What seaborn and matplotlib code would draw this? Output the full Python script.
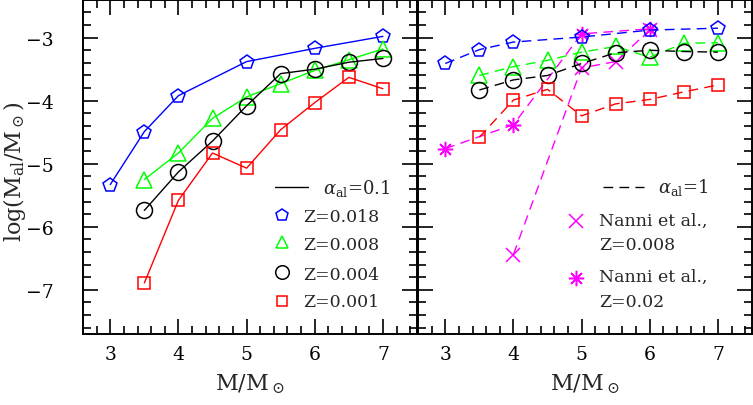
import matplotlib
matplotlib.use("Agg")
import matplotlib.pyplot as plt
import seaborn as sns
import numpy as np
import pandas as pd

sns.set_style("ticks")
plt.rcParams['font.family'] = ['DejaVu Serif']
plt.rcParams['mathtext.fontset'] = 'dejavuserif'

# ---- data: alpha_al = 0.1 (left panel, solid) ----
x_z018_a01 = [3, 3.5, 4, 5, 6, 7]
y_z018_a01 = [-5.33, -4.49, -3.92, -3.38, -3.17, -2.98]
x_z008_a01 = [3.5, 4, 4.5, 5, 5.5, 6, 6.5, 7]
y_z008_a01 = [-5.25, -4.83, -4.28, -3.94, -3.73, -3.52, -3.35, -3.18]
x_z004_a01 = [3.5, 4, 4.5, 5, 5.5, 6, 6.5, 7]
y_z004_a01 = [-5.74, -5.13, -4.64, -4.08, -3.57, -3.50, -3.39, -3.33]
x_z001_a01 = [3.5, 4, 4.5, 5, 5.5, 6, 6.5, 7]
y_z001_a01 = [-6.89, -5.58, -4.83, -5.07, -4.46, -4.03, -3.63, -3.81]

# ---- data: alpha_al = 1 (right panel, dashed) ----
x_z018_a1 = [3, 3.5, 4, 5, 6, 7]
y_z018_a1 = [-3.41, -3.19, -3.07, -2.99, -2.88, -2.85]
x_z008_a1 = [3.5, 4, 4.5, 5, 5.5, 6, 6.5, 7]
y_z008_a1 = [-3.60, -3.46, -3.36, -3.23, -3.14, -3.31, -3.09, -3.08]
x_z004_a1 = [3.5, 4, 4.5, 5, 5.5, 6, 6.5, 7]
y_z004_a1 = [-3.83, -3.67, -3.60, -3.41, -3.24, -3.20, -3.22, -3.23]
x_z001_a1 = [3.5, 4, 4.5, 5, 5.5, 6, 6.5, 7]
y_z001_a1 = [-4.58, -3.99, -3.82, -4.24, -4.05, -3.98, -3.86, -3.75]

# ---- Nanni et al. ----
x_nanni008 = [4, 5, 5.5, 6]
y_nanni008 = [-6.44, -3.48, -3.38, -2.88]
x_nanni02 = [3, 4, 5, 6]
y_nanni02 = [-4.76, -4.38, -2.94, -2.86]

labels_z = ["Z=0.018", "Z=0.008", "Z=0.004", "Z=0.001"]
xticks = [3, 4, 5, 6, 7]
yticks = [-3, -4, -5, -6, -7]

BLUE, GREEN, BLACK, RED, MAG = "#0000ff", "#00ff00", "#000000", "#ff0000", "#ff00ff"
series_style = [("p", BLUE, 10.5), ("^", GREEN, 11), ("o", BLACK, 11.5), ("s", RED, 9)]
star = (8, 2, 0)

W, H = 753, 406
fig = plt.figure(figsize=(W / 100, H / 100), dpi=100)
ax1 = fig.add_axes([83 / W, 1 - 335 / H, 334 / W, 335 / H - 0.002])
ax2 = fig.add_axes([418 / W, 1 - 335 / H, 334 / W, 335 / H - 0.002])

def draw(ax, x, y, marker, color, ms, ls):
    df = pd.DataFrame({"x": x, "y": y})
    sns.lineplot(data=df, x="x", y="y", ax=ax, color=color, marker=marker,
                 markersize=ms, markerfacecolor="none", markeredgecolor=color,
                 markeredgewidth=1.1, linewidth=1.0, linestyle=ls, sort=False,
                 legend=False)

dash = (0, (7, 4.5))
left = [(x_z018_a01, y_z018_a01), (x_z008_a01, y_z008_a01),
        (x_z004_a01, y_z004_a01), (x_z001_a01, y_z001_a01)]
right = [(x_z018_a1, y_z018_a1), (x_z008_a1, y_z008_a1),
         (x_z004_a1, y_z004_a1), (x_z001_a1, y_z001_a1)]
for (x, y), (m, c, ms) in zip(left, series_style):
    draw(ax1, x, y, m, c, ms, "-")
draw(ax2, x_nanni008, y_nanni008, "x", MAG, 10, dash)
draw(ax2, x_nanni02, y_nanni02, star, MAG, 11, dash)
for (x, y), (m, c, ms) in zip(right, series_style):
    draw(ax2, x, y, m, c, ms, dash)

for ax in (ax1, ax2):
    ax.set_xlim(2.6, 7.5)
    ax.set_ylim(-7.7, -2.4)
    ax.set_xticks(xticks)
    ax.set_yticks(yticks)
    ax.set_xticks(np.arange(2.6, 7.5, 0.2), minor=True)
    ax.set_yticks(np.arange(-7.6, -2.4, 0.2), minor=True)
    ax.tick_params(which="both", direction="in", top=True, right=True,
                   width=1.2, colors="black")
    ax.tick_params(which="major", length=11)
    ax.tick_params(which="minor", length=5.5)
    ax.tick_params(axis="x", labelsize=13.5, pad=8)
    ax.tick_params(axis="y", labelsize=13.5, pad=21)
    for s in ax.spines.values():
        s.set_linewidth(1.4)
        s.set_color("black")
    ax.set_xlabel(r"M/M$_\odot$", fontsize=16, labelpad=6)
    ax.set_ylabel("")
ax1.set_xticklabels([str(t) for t in xticks])
ax1.set_yticklabels([f"\u2212{abs(t)}" for t in yticks])
ax2.set_xticklabels([str(t) for t in xticks])
ax2.set_yticklabels([])

fig.text(15 / W, 0.578, r"log(M$_{\rm al}$/M$_\odot$)", rotation=90,
         ha="center", va="center", fontsize=16)

# ---- legends (drawn manually, axes coordinates) ----
T = ax1.transAxes
ax1.plot([0.575, 0.673], [0.439, 0.439], color="black", lw=1.0, transform=T)
ax1.text(0.719, 0.421, r"$\alpha_{\rm al}$=0.1", fontsize=13, transform=T, va="baseline")
mk_y = [0.355, 0.275, 0.185, 0.099]
tx_y = [0.338, 0.254, 0.166, 0.083]
for (m, c, ms), lab, my, ty in zip(series_style, labels_z, mk_y, tx_y):
    ax1.plot([0.596], [my], marker=m, ms=ms * 0.85, mfc="none", mec=c, mew=1.1,
             transform=T, ls="none")
    ax1.text(0.658, ty, lab, fontsize=12.5, transform=T, va="baseline")

T2 = ax2.transAxes
ax2.plot([0.554, 0.677], [0.439, 0.439], color="black", lw=1.0, ls=dash, transform=T2)
ax2.text(0.719, 0.424, r"$\alpha_{\rm al}$=1", fontsize=13, transform=T2, va="baseline")
ax2.plot([0.473], [0.338], marker="x", ms=10, mec=MAG, mew=1.1, transform=T2, ls="none")
ax2.text(0.542, 0.328, "Nanni et al.,", fontsize=12.5, transform=T2, va="baseline")
ax2.text(0.542, 0.254, "Z=0.008", fontsize=12.5, transform=T2, va="baseline")
ax2.plot([0.473], [0.167], marker=star, ms=11, mec=MAG, mew=1.1, transform=T2, ls="none")
ax2.text(0.542, 0.159, "Nanni et al.,", fontsize=12.5, transform=T2, va="baseline")
ax2.text(0.542, 0.084, "Z=0.02", fontsize=12.5, transform=T2, va="baseline")

fig.savefig("out.png", dpi=100)
